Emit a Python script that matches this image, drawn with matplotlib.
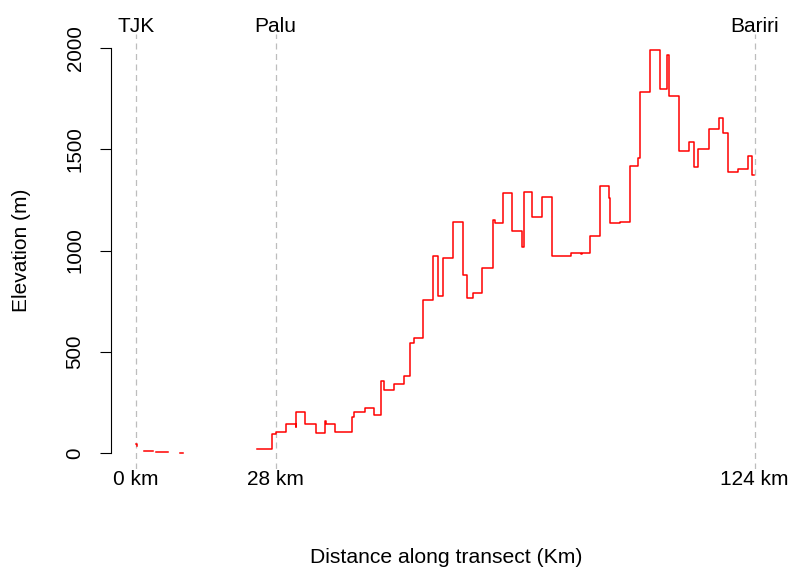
import numpy as np
import matplotlib.pyplot as plt
from matplotlib.transforms import blended_transform_factory

plt.rcParams["font.family"] = ["Liberation Sans", "DejaVu Sans"]

nan = np.nan

# distance along the transect (km) and elevation (m); NaN marks gaps in the record
distance_km = [
    0.0, 0.15, nan,
    1.6, 3.4, nan,
    4.0, 6.4, nan,
    8.8, 9.4, nan,
    24.2, 27.2, 28.1, 30.1, 32.0, 32.1, 33.9, 36.0, 37.9, 38.1,
    39.9, 43.4, 43.8, 45.9, 47.8, 49.2, 49.8, 51.7, 53.7, 55.0,
    55.7, 57.6, 59.6, 60.6, 61.6, 63.6, 65.5, 66.4, 67.5, 69.4,
    71.5, 72.0, 73.5, 75.4, 77.4, 77.8, 79.4, 81.4, 83.3, 87.2,
    89.2, 89.4, 91.1, 93.1, 94.9, 95.1, 97.0, 99.0, 100.7, 101.0,
    103.0, 105.0, 106.4, 106.9, 108.9, 110.9, 111.9, 112.7, 114.9, 116.8,
    117.7, 118.7, 120.7, 122.7, 123.4, 123.9,
]
elevation_m = [
    45, 35, nan,
    11, 11, nan,
    5, 5, nan,
    1, 1, nan,
    20, 92, 105, 143, 130, 201, 143, 100, 160, 142,
    102, 176, 204, 221, 188, 356, 311, 339, 382, 542,
    566, 754, 974, 775, 961, 1141, 879, 767, 789, 914,
    1151, 1134, 1282, 1098, 1019, 1290, 1164, 1266, 974, 989,
    985, 989, 1072, 1319, 1258, 1134, 1142, 1417, 1458, 1784,
    1990, 1796, 1965, 1763, 1491, 1536, 1414, 1503, 1600, 1656,
    1579, 1388, 1402, 1467, 1371, 1371,
]

sites = ["TJK", "Palu", "Bariri"]
site_km = [0, 28, 124]
y_ticks = [0, 500, 1000, 1500, 2000]

fig = plt.figure(figsize=(7.9, 5.75), dpi=100)
ax = fig.add_axes([0.1405, 0.1843, 0.8462, 0.7565])

for km in site_km:
    ax.axvline(km, color="#bdbdbd", lw=0.9, linestyle=(0, (4.8, 3.6)), zorder=1)

ax.plot(distance_km, elevation_m, drawstyle="steps-post", color="red", lw=1.1, zorder=2)

ax.set_xlim(-5.0, 129.0)
ax.set_ylim(-79, 2069)

for side in ["top", "right", "bottom"]:
    ax.spines[side].set_visible(False)
ax.spines["left"].set_bounds(0, 2000)
ax.spines["left"].set_linewidth(0.8)

ax.set_yticks(y_ticks)
ax.set_yticklabels([str(v) for v in y_ticks], rotation=90, va="center")
ax.tick_params(axis="y", length=8, width=0.8, pad=11, labelsize=14.8)

ax.set_xticks(site_km)
ax.set_xticklabels([f"{k} km" for k in site_km])
ax.tick_params(axis="x", length=0, pad=1, labelsize=15)

trans = blended_transform_factory(ax.transData, ax.transAxes)
for name, km in zip(sites, site_km):
    ax.annotate(name, xy=(km, 1.0), xycoords=trans, xytext=(0, 1.7),
                textcoords="offset points", ha="center", va="baseline", fontsize=15)

fig.text(0.0278, 0.5652, "Elevation (m)", rotation=90, ha="center", va="center", fontsize=15)
fig.text(0.5646, 0.0296, "Distance along transect (Km)", ha="center", va="center", fontsize=15.2)

fig.savefig("out.png", dpi=100)
